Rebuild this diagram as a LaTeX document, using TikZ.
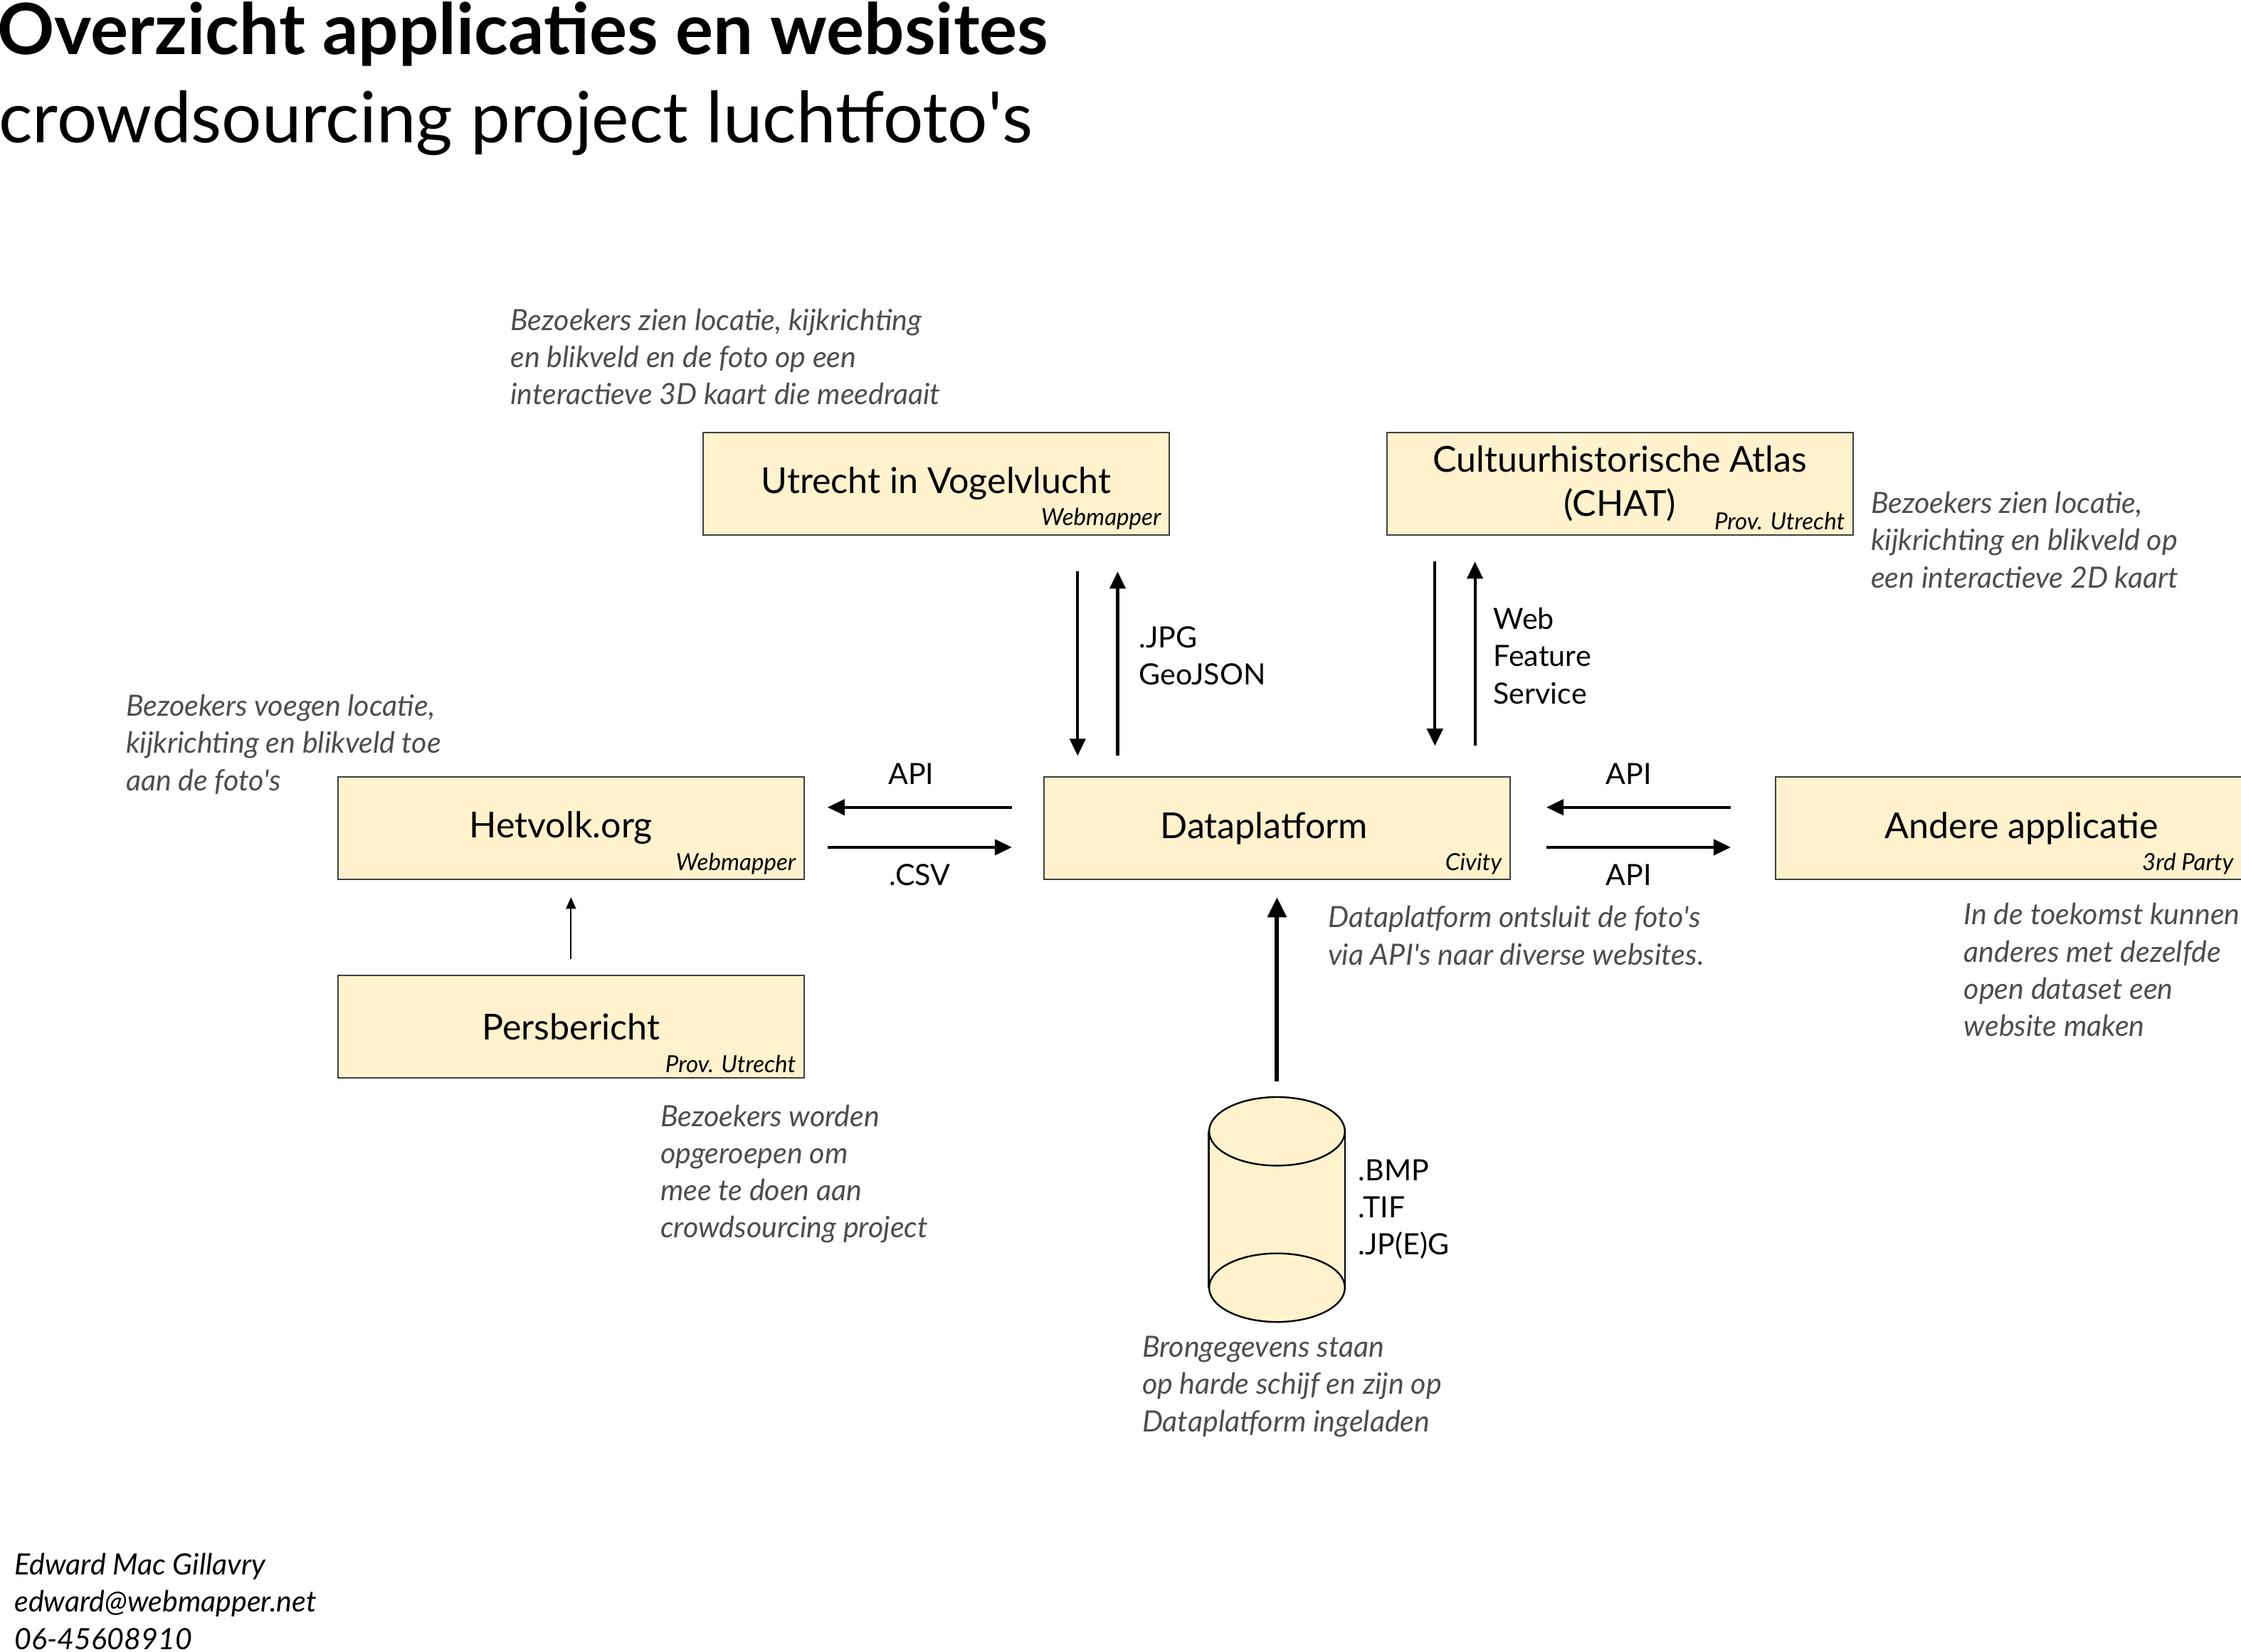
\documentclass[tikz,border=0pt]{standalone}
\usepackage{fontspec}
\setmainfont{Lato}
\usetikzlibrary{arrows.meta,calc,positioning}
\definecolor{boxfill}{HTML}{FFF2CC}
\definecolor{notegray}{HTML}{4D4D4D}
\newcommand{\q}{\textquotesingle}

\begin{document}
\begin{tikzpicture}[x=1pt, y=-1pt, >={Triangle[length=12pt,width=11pt]}]
\tikzset{
  appstyle/.style={draw=black!75, line width=1pt, fill=boxfill, minimum width=326pt,
    minimum height=72pt, inner sep=0pt, align=center, font=\fontsize{25}{31}\selectfont},
  tag/.style={anchor=south east, inner xsep=6pt, inner ysep=4pt,
    font=\fontsize{16.5}{18}\selectfont\itshape},
  notetext/.style={anchor=north west, inner sep=0pt, align=left, text=notegray,
    font=\fontsize{20.5}{26}\selectfont\itshape},
  flow/.style={->, line width=2pt},
  flowlabel/.style={inner sep=0pt, align=left, font=\fontsize{20.5}{26}\selectfont},
}
\newcommand{\appbox}[1][]{\node [#1, appstyle]}
\newcommand{\uitleg}[1][]{\node [notetext, #1]}
\useasboundingbox (0,0) rectangle (1568,1156);

% titel
\node [anchor=base west, inner sep=0pt, font=\fontsize{49.5}{54}\selectfont\bfseries] (title) at (-2,38) {Overzicht applicaties en websites};
\node [anchor=base west, inner sep=0pt, font=\fontsize{49.5}{54}\selectfont] (subtitle) at (-1,100) {crowdsourcing project luchtfoto\q s};

% applicaties
\coordinate (c) at (893.5,579.5);
\appbox [text width=306pt] (data) at (c) {\hspace*{-18pt}Dataplatform};
\appbox [left=167pt of data] (hetvolk) {\hspace*{-14pt}Hetvolk.org};
\appbox [right=185pt of data] (andere) {\hspace*{18pt}Andere applicatie};
\appbox [below=66pt of hetvolk] (pers) {Persbericht};
\appbox [above=168pt of data, xshift=-238.5pt] (utrecht) {Utrecht in Vogelvlucht};
\appbox [above=168pt of data, xshift=240pt] (chat) {Cultuurhistorische Atlas\\(CHAT)};

\node [tag] (datatag) at (data.south east) {Civity};
\node [tag] (hetvolktag) at (hetvolk.south east) {Webmapper};
\node [tag] (anderetag) at (andere.south east) {3rd Party};
\node [tag] (perstag) at (pers.south east) {Prov. Utrecht};
\node [tag] (utrechttag) at (utrecht.south east) {Webmapper};
\node [tag] (chattag) at (chat.south east) {Prov. Utrecht};

% harde schijf
\node [minimum width=95pt, minimum height=157pt, inner sep=0pt] (disk) at (893.5,846.5) {};
\fill [boxfill] ($(disk.south)+(0,-24)$) ellipse [x radius=47.5pt, y radius=24pt];
\fill [boxfill] ($(disk.north west)+(0,24)$) rectangle ($(disk.south east)+(0,-24)$);
\draw [line width=1.2pt] ($(disk.south)+(0,-24)$) ellipse [x radius=47.5pt, y radius=24pt];
\draw [line width=1.2pt] ($(disk.north west)+(0,24)$) -- ($(disk.south west)+(0,-24)$);
\draw [line width=1.2pt] ($(disk.north east)+(0,24)$) -- ($(disk.south east)+(0,-24)$);
\filldraw [fill=boxfill, line width=1.2pt] ($(disk.north)+(0,24)$) ellipse [x radius=47.5pt, y radius=24pt];
\node [flowlabel, right=9pt of disk] (formats) {.BMP\\.TIF\\.JP(E)G};

% verbindingen
\draw [flow, shorten <=25pt, shorten >=14pt] ([xshift=99pt]utrecht.south) -- ([xshift=99pt]utrecht.south |- data.north);
\draw [flow, <-, shorten <=25pt, shorten >=14pt] ([xshift=127pt]utrecht.south) -- ([xshift=127pt]utrecht.south |- data.north)
  node [flowlabel, midway, right=14pt] (jpglabel) {.JPG\\GeoJSON};

\draw [flow, shorten <=18pt, shorten >=21pt] ([xshift=-129.5pt]chat.south) -- ([xshift=-129.5pt]chat.south |- data.north);
\draw [flow, <-, shorten <=18pt, shorten >=21pt] ([xshift=-101.5pt]chat.south) -- ([xshift=-101.5pt]chat.south |- data.north)
  node [flowlabel, midway, right=12pt] (wfslabel) {Web\\Feature\\Service};

\draw [flow, shorten <=22pt, shorten >=16pt] ([yshift=14.5pt]data.west) -- ([yshift=14.5pt]data.west -| hetvolk.east)
  node [flowlabel, midway, above=15pt, xshift=-9pt] (apileft) {API};
\draw [flow, <-, shorten <=22pt, shorten >=16pt] ([yshift=-13.5pt]data.west) -- ([yshift=-13.5pt]data.west -| hetvolk.east)
  node [flowlabel, midway, below=11pt, xshift=-3pt] (csvlabel) {.CSV};

\draw [flow, shorten <=31pt, shorten >=25pt] ([yshift=14.5pt]andere.west) -- ([yshift=14.5pt]andere.west -| data.east)
  node [flowlabel, midway, above=15pt, xshift=-10pt] (apiin) {API};
\draw [flow, <-, shorten <=31pt, shorten >=25pt] ([yshift=-13.5pt]andere.west) -- ([yshift=-13.5pt]andere.west -| data.east)
  node [flowlabel, midway, below=11pt, xshift=-10pt] (apiout) {API};

\draw [->, line width=1pt, >={Triangle[length=8pt,width=7pt]}, shorten <=11pt, shorten >=12pt] (pers) -- (hetvolk);
\draw [flow, line width=3pt, >={Triangle[length=14pt,width=13pt]}, shorten <=11pt, shorten >=12pt] (disk) -- (data);

% toelichting
\uitleg (utrechtnote) at (357,216) {Bezoekers zien locatie, kijkrichting\\en blikveld en de foto op een\\interactieve 3D kaart die meedraait};
\uitleg (chatnote) at (1309,344) {Bezoekers zien locatie,\\kijkrichting en blikveld op\\een interactieve 2D kaart};
\uitleg (hetvolknote) at (88,486) {Bezoekers voegen locatie,\\kijkrichting en blikveld toe\\aan de foto\q s};
\uitleg (datanote) at (929,634) {Dataplatform ontsluit de foto\q s\\via API\q s naar diverse websites.};
\uitleg (anderenote) at (1374,632) {In de toekomst kunnen\\anderes met dezelfde\\open dataset een\\website maken};
\uitleg (persnote) at (462,773) {Bezoekers worden\\opgeroepen om\\mee te doen aan\\crowdsourcing project};
\uitleg (disknote) at (799,935) {Brongegevens staan\\op harde schijf en zijn op\\Dataplatform ingeladen};
\uitleg [text=black] (contact) at (10,1087) {Edward Mac Gillavry\\edward@webmapper.net\\06-45608910};
\end{tikzpicture}
\end{document}
